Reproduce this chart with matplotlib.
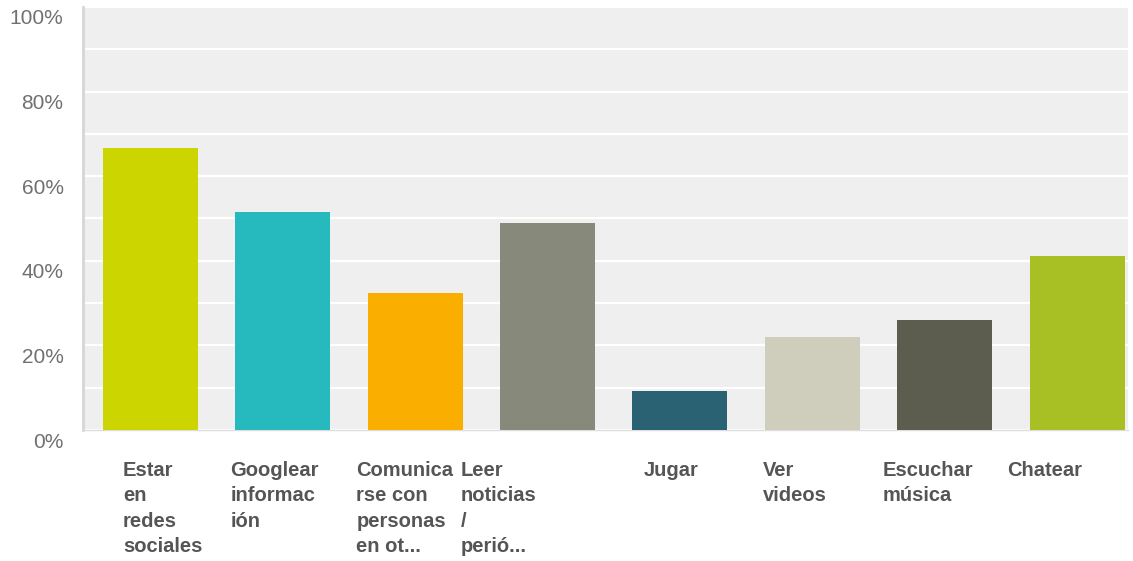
import matplotlib
matplotlib.use('Agg')
import matplotlib.pyplot as plt
import matplotlib.transforms as mtransforms
import numpy as np

# ========================= DATOS =========================

categories = [
    "Estar\nen\nredes\nsociales",
    "Googlear\ninformac\nión",
    "Comunica\nrse con\npersonas\nen ot...",
    "Leer\nnoticias\n/\nperió...",
    "Jugar",
    "Ver\nvideos",
    "Escuchar\nmúsica",
    "Chatear",
]
values = [66.6, 51.6, 32.5, 49.0, 9.3, 22.1, 26.0, 41.1]
colors = ['#cdd500', '#26b9bd', '#f9ae00', '#878a7a',
          '#2b6273', '#cfcebd', '#5c5c4f', '#a9c024']
ytick_values = [0, 20, 40, 60, 80, 100]
ytick_labels = ['0%', '20%', '40%', '60%', '80%', '100%']

# desplazamiento (px) del borde izquierdo de cada etiqueta respecto al centro de la barra
label_left_px = [-27.5, -52.5, -59, -87, -36, -49, -62, -70]

# ========================= FIGURA =========================

fig = plt.figure(figsize=(11.33, 5.61), dpi=100)
ax = fig.add_axes([83 / 1133, 131 / 561, 1045 / 1133, 423 / 561])
ax.set_facecolor('#efefef')

x = np.arange(len(values))
ax.bar(x, values, width=0.718, color=colors, zorder=3)

ax.set_xlim(-0.51, 7.385)
ax.set_ylim(0, 100)

ax.set_yticks(np.arange(0, 101, 10), minor=True)
ax.set_yticks(ytick_values)
ax.set_yticklabels(ytick_labels, fontsize=15, color='#707070',
                   family='Liberation Sans')
ax.yaxis.grid(True, which='both', color='white', linewidth=1.6, zorder=1)
ax.tick_params(axis='y', which='both', length=0, pad=14)
ax.set_xticks([])

# etiquetas del eje Y desplazadas hacia abajo respecto a la línea
offset = mtransforms.ScaledTranslation(0, -0.10, fig.dpi_scale_trans)
for lbl in ax.get_yticklabels():
    lbl.set_transform(lbl.get_transform() + offset)

for side in ['top', 'right']:
    ax.spines[side].set_visible(False)
ax.spines['left'].set_color('#d6d6d6')
ax.spines['left'].set_linewidth(2)
ax.spines['bottom'].set_color('#dddddd')
ax.spines['bottom'].set_linewidth(1)

# etiquetas de categorías
px_per_unit = ax.get_window_extent().width / (7.385 + 0.51)
for i, (name, dx) in enumerate(zip(categories, label_left_px)):
    ax.text(i + dx / px_per_unit, -0.073, name, transform=ax.get_xaxis_transform(),
            ha='left', va='top', fontsize=14.5, fontweight='bold',
            color='#555555', family='Liberation Sans', linespacing=1.43)

plt.savefig('out.png', dpi=100)
plt.close()
